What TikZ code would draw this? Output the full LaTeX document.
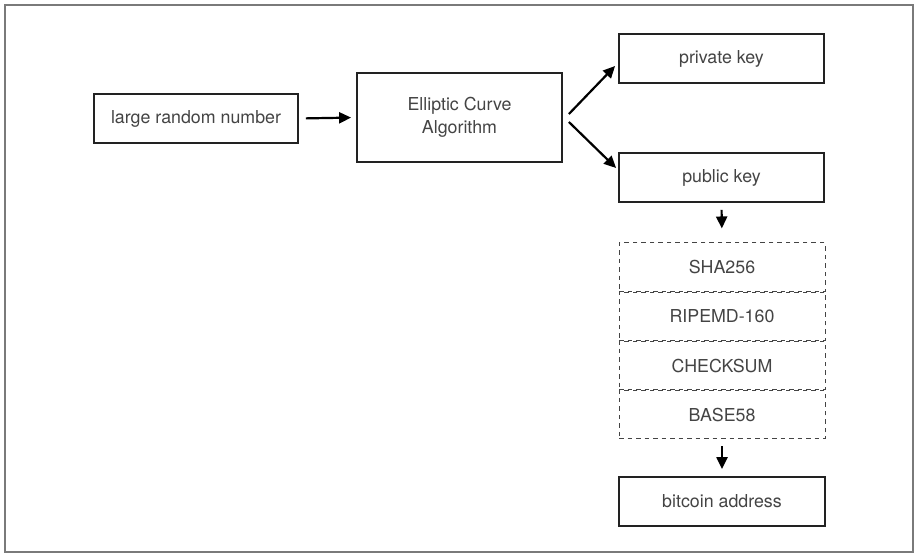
\documentclass[tikz,border=0pt]{standalone}
\usepackage{fontspec}
\setmainfont{TeX Gyre Heros}
\usetikzlibrary{arrows.meta,calc}
\definecolor{txt}{HTML}{444444}
\definecolor{edge}{HTML}{222222}
\definecolor{frm}{HTML}{7A7A7A}
\begin{document}
\begin{tikzpicture}[x=1pt,y=-1pt,
  box/.style={draw=edge,line width=1.8pt,text=txt,align=center,inner sep=0pt,
    font=\fontsize{17.8}{23}\selectfont},
  dbox/.style={draw=txt,line width=1pt,dash pattern=on 4.5pt off 4pt,text=txt,
    inner sep=0pt,minimum width=206pt,minimum height=48.25pt,
    font=\fontsize{17.8}{23}\selectfont},
  arr/.style={draw=black,line width=2.2pt,-{Triangle[length=12pt,width=11pt]}}]
\useasboundingbox (0,0) rectangle (921,559);
\fill[white] (0,0) rectangle (921,559);
\draw[frm,line width=1.5pt] (5,5) rectangle (913,552);
\node[box,minimum width=204pt,minimum height=49pt] (lrn) at (196,118.5) {large random number};
\node[box,minimum width=205pt,minimum height=89pt] (ec) at (459.5,117.5) {Elliptic Curve\\Algorithm};
\node[box,minimum width=205pt,minimum height=49pt] (priv) at (721.5,58.5) {private key};
\node[box,minimum width=205pt,minimum height=49pt] (pub) at (721.5,177.5) {public key};
\node[dbox] (sha) at (722,267.1) {SHA256};
\node[dbox,anchor=north] (rip) at (sha.south) {RIPEMD-160};
\node[dbox,anchor=north] (chk) at (rip.south) {CHECKSUM};
\node[dbox,anchor=north] (b58) at (chk.south) {BASE58};
\node[box,minimum width=206pt,minimum height=49pt] (btc) at (722,501.5) {bitcoin address};
\draw[arr,shorten <=7pt,shorten >=5pt] (lrn.east) -- (ec.west);
\draw[arr] ($(ec.east)+(6,-3.5)$) -- ($(priv.west)+(-3,7.5)$);
\draw[arr] ($(ec.east)+(6,4.5)$) -- ($(pub.west)+(-2,-9.5)$);
\draw[arr,shorten <=7pt,shorten >=14pt] (pub.south) -- (sha.north);
\draw[arr,shorten <=7pt,shorten >=7pt] (b58.south) -- (btc.north);
\end{tikzpicture}
\end{document}
